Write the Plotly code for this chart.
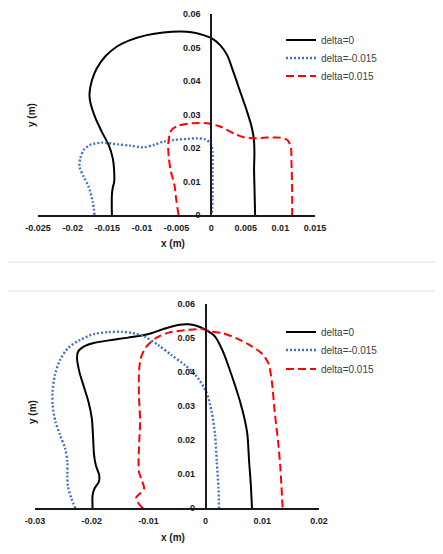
import plotly.graph_objects as go

# ---------------- data: top chart ----------------
top_d0_x = [-0.01433, -0.01433, -0.0142, -0.0140, -0.0140, -0.0142, -0.0148, -0.0158, -0.0167, -0.01746, -0.01756,
            -0.0172, -0.0165, -0.0153, -0.0136, -0.0117, -0.0093, -0.0069, -0.0045, -0.0026, -0.0011, 0.0001,
            0.0013, 0.0023, 0.0032, 0.0042, 0.0052, 0.0059, 0.0062, 0.00625, 0.0062, 0.00625, 0.00635]
top_d0_y = [0.0, 0.006, 0.0082, 0.0099, 0.0129, 0.0169, 0.0209, 0.0249, 0.0289, 0.0338, 0.0363,
            0.0403, 0.0438, 0.0473, 0.0503, 0.0522, 0.0537, 0.0545, 0.0548, 0.0545, 0.0537, 0.0527,
            0.0507, 0.0478, 0.0428, 0.0368, 0.0308, 0.0259, 0.0219, 0.0179, 0.0139, 0.009, 0.0]

top_dm_x = [-0.01684, -0.0171, -0.0177, -0.0184, -0.0190, -0.0189, -0.0184, -0.0175, -0.0158, -0.0136, -0.0117,
            -0.0098, -0.0083, -0.0069, -0.0054, -0.0035, -0.0021, -0.0009, -0.0001, 0.0002, 0.0002, 0.0002, 0.0001]
top_dm_y = [0.0, 0.004, 0.0085, 0.0114, 0.0144, 0.0169, 0.0194, 0.0209, 0.0216, 0.0211, 0.0207,
            0.0202, 0.0209, 0.0219, 0.0224, 0.0227, 0.0229, 0.0226, 0.0214, 0.0189, 0.0129, 0.005, 0.0]

top_dp_x = [-0.0047, -0.0050, -0.0053, -0.0058, -0.0061, -0.0062, -0.0060, -0.0057, -0.0047, -0.0026, -0.0006,
            0.0013, 0.0032, 0.0047, 0.0061, 0.0080, 0.0100, 0.0110, 0.0115, 0.0116, 0.0117, 0.0117]
top_dp_y = [0.0, 0.004, 0.009, 0.0129, 0.0169, 0.0209, 0.0239, 0.0254, 0.0267, 0.0274, 0.0274,
            0.0264, 0.0244, 0.0232, 0.0229, 0.0231, 0.0231, 0.0224, 0.0204, 0.0159, 0.007, 0.0]

# ---------------- data: bottom chart ----------------
bot_d0_x = [-0.01986, -0.01986, -0.0195, -0.01875, -0.0187, -0.0193, -0.0196, -0.0198, -0.0200, -0.0206, -0.0215,
            -0.0222, -0.0226, -0.0224, -0.0215, -0.0195, -0.0165, -0.0136, -0.0112, -0.0095, -0.0071, -0.0048,
            -0.0030, -0.0016, -0.0001, 0.0017, 0.0031, 0.0046, 0.0061, 0.0070, 0.0074, 0.0077, 0.0080, 0.0082]
bot_d0_y = [0.0, 0.0039, 0.0059, 0.0078, 0.0098, 0.0127, 0.0157, 0.0216, 0.0265, 0.0314, 0.0363,
            0.0402, 0.0441, 0.0461, 0.0475, 0.0487, 0.0495, 0.0502, 0.0508, 0.0515, 0.0529, 0.0539,
            0.0541, 0.0537, 0.0526, 0.0505, 0.0461, 0.0392, 0.0314, 0.0255, 0.0216, 0.0137, 0.0069, 0.0]

bot_dm_x = [-0.0229, -0.0236, -0.0242, -0.0243, -0.0243, -0.0247, -0.0256, -0.0264, -0.0269, -0.0269, -0.0265,
            -0.0256, -0.0242, -0.0221, -0.0195, -0.0171, -0.0148, -0.0130, -0.0107, -0.0083, -0.0060, -0.0036,
            -0.0015, 0.0002, 0.0011, 0.0017, 0.0020, 0.0023, 0.0024]
bot_dm_y = [0.0, 0.0029, 0.0064, 0.0098, 0.0137, 0.0176, 0.0216, 0.0255, 0.0304, 0.0343, 0.0392,
            0.0436, 0.0471, 0.0495, 0.0513, 0.0518, 0.0519, 0.0516, 0.0505, 0.0480, 0.0451, 0.0421,
            0.0387, 0.0340, 0.0284, 0.0216, 0.0137, 0.0059, 0.0]

bot_dp_x = [-0.0110, -0.0118, -0.0122, -0.0115, -0.0108, -0.0112, -0.0117, -0.0117, -0.0115, -0.0117, -0.0117,
            -0.0114, -0.0104, -0.0086, -0.0066, -0.0036, -0.0007, 0.0008, 0.0031, 0.0055, 0.0078, 0.0099,
            0.0111, 0.0117, 0.0122, 0.0128, 0.0132, 0.0136]
bot_dp_y = [0.0, 0.0015, 0.0031, 0.0044, 0.0059, 0.0083, 0.0108, 0.0176, 0.0255, 0.0333, 0.0392,
            0.0441, 0.0475, 0.0502, 0.0516, 0.0524, 0.0527, 0.0521, 0.0515, 0.0500, 0.0480, 0.0456,
            0.0426, 0.0372, 0.0284, 0.0196, 0.0118, 0.0]

series_names = ["delta=0", "delta=-0.015", "delta=0.015"]

top_xticks = [-0.025, -0.02, -0.015, -0.01, -0.005, 0, 0.005, 0.01, 0.015]
top_xtick_text = ["-0.025", "-0.02", "-0.015", "-0.01", "-0.005", "0", "0.005", "0.01", "0.015"]
bot_xticks = [-0.03, -0.02, -0.01, 0, 0.01, 0.02]
bot_xtick_text = ["-0.03", "-0.02", "-0.01", "0", "0.01", "0.02"]
yticks = [0, 0.01, 0.02, 0.03, 0.04, 0.05, 0.06]
ytick_text = ["0", "0.01", "0.02", "0.03", "0.04", "0.05", "0.06"]

# ---------------- figure ----------------
OFF = 8                      # page body margin
W, H = 443 - OFF, 554 - OFF  # figure size so the page does not overflow
FONT = "Liberation Sans"
styles = [
    dict(color="#000000", width=2, dash="solid"),
    dict(color="#4472C4", width=2.4, dash="2px,2px"),
    dict(color="#FF0000", width=2, dash="8px,4px"),
]

def px_x(p):
    return (p - OFF) / W

def px_y(p):
    return 1 - (p - OFF) / H

fig = go.Figure()
top_sets = [(top_d0_x, top_d0_y), (top_dm_x, top_dm_y), (top_dp_x, top_dp_y)]
bot_sets = [(bot_d0_x, bot_d0_y), (bot_dm_x, bot_dm_y), (bot_dp_x, bot_dp_y)]
top_rows = [44, 62, 80]
bot_rows = [336, 354, 373]
legend_cfg = {}
k = 1
for sets, xa, ya, rows in [(top_sets, "x", "y", top_rows), (bot_sets, "x2", "y2", bot_rows)]:
    for (xs, ys), name, st, row in zip(sets, series_names, styles, rows):
        lname = "legend" if k == 1 else f"legend{k}"
        fig.add_trace(go.Scatter(x=xs, y=ys, mode="lines", name=name,
                                 line=dict(shape="spline", smoothing=0.8, **st),
                                 xaxis=xa, yaxis=ya, legend=lname))
        legend_cfg[lname] = dict(x=px_x(281), y=px_y(row - 18.5), xanchor="left", yanchor="top",
                                 bgcolor="rgba(0,0,0,0)", font=dict(family=FONT, size=10, color="#404040"),
                                 itemwidth=30)
        k += 1

tickfont = dict(family=FONT, size=9, color="#1a1a1a", weight="bold")
axis_line = dict(showline=True, linecolor="#1a1a1a", linewidth=1.5, showgrid=False, zeroline=False,
                 ticks="", automargin=False, tickfont=tickfont)

fig.update_layout(
    template="none",
    width=W, height=H, margin=dict(l=0, r=0, t=0, b=0, pad=0), autosize=False,
    paper_bgcolor="white", plot_bgcolor="rgba(0,0,0,0)",
    xaxis=dict(domain=[px_x(38), px_x(315)], range=[-0.025, 0.015], anchor="y",
               tickvals=top_xticks, ticktext=top_xtick_text, ticklabelstandoff=3, **axis_line),
    yaxis=dict(domain=[px_y(215), px_y(14)], range=[0, 0.06], anchor="free", position=px_x(211),
               tickvals=yticks, ticktext=ytick_text, ticklabelstandoff=8, **axis_line),
    xaxis2=dict(domain=[px_x(35), px_x(319)], range=[-0.03, 0.02], anchor="y2",
                tickvals=bot_xticks, ticktext=bot_xtick_text, ticklabelstandoff=3, **axis_line),
    yaxis2=dict(domain=[px_y(508.3), px_y(304.3)], range=[0, 0.06], anchor="free", position=px_x(205.5),
                tickvals=yticks, ticktext=ytick_text, ticklabelstandoff=8, **axis_line),
    showlegend=True,
    **legend_cfg,
)

# axis titles
title_font = dict(family=FONT, size=10, color="#1a1a1a", weight="bold")
for (tx, ty, text, ang) in [(173, 243, "x (m)", 0), (32, 115, "y (m)", -90),
                            (173, 537, "x (m)", 0), (32, 412, "y (m)", -90)]:
    fig.add_annotation(x=px_x(tx), y=px_y(ty), xref="paper", yref="paper", text=text, showarrow=False,
                       textangle=ang, font=title_font, xanchor="center", yanchor="middle")

# faint chart frames
fig.add_shape(type="rect", xref="paper", yref="paper", x0=px_x(6), x1=px_x(470), y0=px_y(262), y1=px_y(3),
              line=dict(color="#e3e3e3", width=1.2), layer="below")
fig.add_shape(type="rect", xref="paper", yref="paper", x0=px_x(5), x1=px_x(470), y0=px_y(590), y1=px_y(291),
              line=dict(color="#e3e3e3", width=1.2), layer="below")

fig.write_html("out.html")
